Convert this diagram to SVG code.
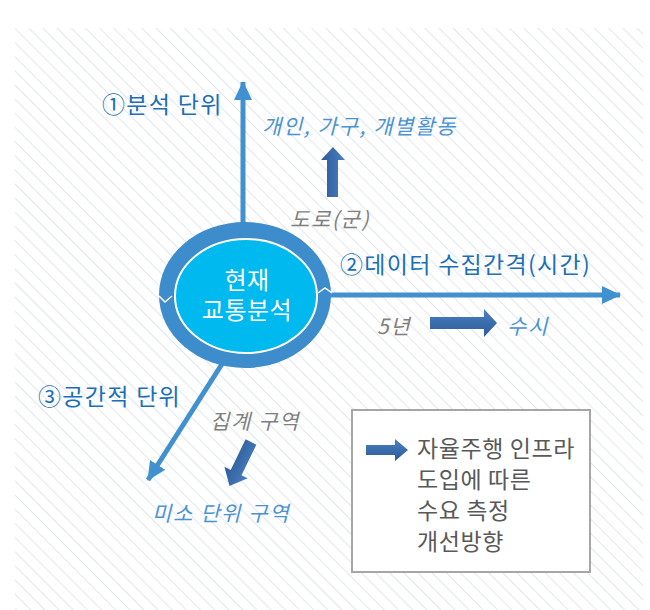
<svg xmlns="http://www.w3.org/2000/svg" width="650" height="610" viewBox="0 0 650 610">
<defs>
<pattern id="hatch" patternUnits="userSpaceOnUse" width="10" height="10" patternTransform="rotate(-45)">
<line x1="0" y1="0" x2="0" y2="10" stroke="#ccd6e2" stroke-width="1.2"/>
</pattern>
<marker id="head" markerUnits="userSpaceOnUse" markerWidth="20" markerHeight="20" viewBox="0 0 20 20" refX="18" refY="10" orient="auto">
<path d="M0,1 L19,10 L0,19 Z" fill="#4191d0"/>
</marker>
<linearGradient id="gH" x1="0" y1="0" x2="0" y2="1">
<stop offset="0" stop-color="#4a80c2"/>
<stop offset="1" stop-color="#2c5a98"/>
</linearGradient>
<linearGradient id="gV" x1="0" y1="0" x2="1" y2="0">
<stop offset="0" stop-color="#2c5a98"/>
<stop offset="1" stop-color="#4a80c2"/>
</linearGradient>
</defs>
<style>
.lbl{font-family:"Noto Sans CJK KR","Noto Sans",sans-serif;font-size:23px;letter-spacing:1.3px;fill:#1a6fb8;}
.it{font-family:"Noto Sans CJK KR","Noto Sans",sans-serif;font-size:21px;letter-spacing:1.6px;font-style:italic;}
.gray{fill:#7f7f7f;}
.lb{fill:#4a93d2;}
.box{font-family:"Noto Sans CJK KR","Noto Sans",sans-serif;font-size:23px;letter-spacing:0.6px;fill:#595959;}
.ctr{font-family:"Noto Sans CJK KR","Noto Sans",sans-serif;font-size:24px;letter-spacing:0.5px;fill:#ffffff;text-anchor:middle;}
.axis{stroke:#4191d0;stroke-width:5;fill:none;marker-end:url(#head);}
</style>
<rect x="0" y="0" width="650" height="610" fill="#ffffff"/>
<rect x="15" y="28" width="628" height="582" fill="url(#hatch)"/>

<g id="connectors">
<line class="axis" x1="243" y1="226" x2="243" y2="82"/>
<line class="axis" x1="328" y1="295" x2="620" y2="295"/>
<line class="axis" x1="222" y1="364" x2="148" y2="480"/>
</g>

<g id="center">
<ellipse cx="245" cy="295" rx="86" ry="73" fill="#3d8ccc"/>
<ellipse cx="246" cy="296" rx="71" ry="57" fill="#00b9ef" stroke="#ffffff" stroke-width="2"/>
<polyline points="159,296 165,302 172,296" fill="none" stroke="#ffffff" stroke-width="1.5"/>
<polyline points="318,293 325,288 332,293" fill="none" stroke="#ffffff" stroke-width="1.5"/>
<text class="ctr" x="247" y="289">현재<tspan x="247" dy="30">교통분석</tspan></text>
</g>

<g id="unit1">
<text class="lbl" x="102" y="113">①분석 단위</text>
<text class="it lb" x="262" y="134">개인, 가구, 개별활동</text>
<polygon points="327,197 338,197 338,160 345,160 333,147 321,160 327,160" fill="url(#gV)"/>
<text class="it gray" x="290" y="227">도로(군)</text>
</g>

<g id="unit2">
<text class="lbl" x="340" y="273">②데이터 수집간격(시간)</text>
<text class="it gray" x="377" y="334">5년</text>
<polygon points="430,317 484,317 484,309 497,323 484,337 484,329 430,329" fill="url(#gH)"/>
<text class="it lb" x="507" y="334">수시</text>
</g>

<g id="unit3">
<text class="lbl" x="38" y="405">③공간적 단위</text>
<text class="it gray" x="210" y="429">집계 구역</text>
<polygon transform="translate(251,442) rotate(116)" points="0,-6 34,-6 34,-13 49,0 34,13 34,6 0,6" fill="url(#gH)"/>
<text class="it lb" x="152" y="521">미소 단위 구역</text>
</g>

<g id="legend">
<rect x="352" y="410" width="238" height="162" fill="#ffffff" stroke="#a6a6a6" stroke-width="2"/>
<polygon points="366,445 395,445 395,439 408,450 395,461 395,455 366,455" fill="url(#gH)"/>
<text class="box" x="417" y="457">자율주행 인프라</text>
<text class="box" x="417" y="488">도입에 따른</text>
<text class="box" x="417" y="519">수요 측정</text>
<text class="box" x="417" y="550">개선방향</text>
</g>
</svg>
